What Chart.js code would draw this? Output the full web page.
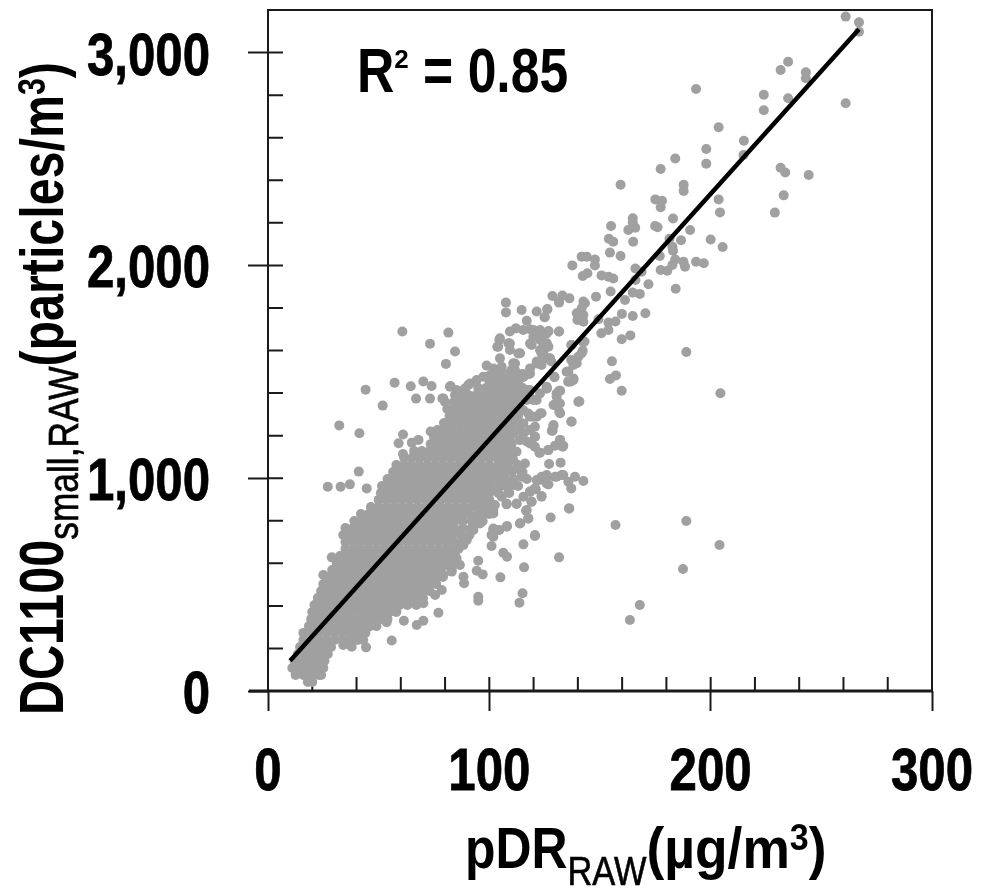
<!DOCTYPE html>
<html>
<head>
<meta charset="utf-8">
<title>DC1100 vs pDR</title>
<script src="https://cdn.jsdelivr.net/npm/chart.js@4"></script>
<style>
  html, body { margin: 0; padding: 0; background: #fff; }
  canvas { display: block; }
</style>
</head>
<body>
<canvas id="grafico" width="982" height="890"></canvas>
<script>
// DADOS
const xTicks = [0, 100, 200, 300];
const yTicks = [0, 1000, 2000, 3000];
const fitX = [10, 267];
const fitY = [142, 3109];

// miolo denso: cada nivel de y tem a sua lista de x
const bandY = [42, 75, 108, 141, 174, 207, 240, 273, 305, 338, 371, 404, 437, 470, 503, 536, 568, 601, 634, 667, 700, 733, 766, 799, 832, 865, 898, 930, 963, 996, 1029, 1062, 1095, 1128, 1160, 1193, 1226, 1259, 1292, 1325, 1358, 1391, 1424, 1457, 1490];
const bandX = [
  [18,20],
  [12.5,16,19.5,23,24],
  [11,14.5,18,21.5,25],
  [12,15.5,19,22.5,25.5],
  [13.5,17,20.5,24,27],
  [14.5,18,21.5,25,28.5],
  [16,19.5,23,26.5,30,33.5,37,40.5,43],
  [16,19.5,23,26.5,30,33.5,37,40.5,44],
  [18.5,22,25.5,29,32.5,36,39.5,43,46,49],
  [19.5,23,26.5,30,33.5,37,40.5,44,47.5,51,54],
  [20,23.5,27,30.5,34,37.5,41,44.5,48,51.5,55,58],
  [21,24.5,28,31.5,35,38.5,42,45.5,49,52.5,56,59.5,63,67],
  [22.5,26,29.5,33,36.5,40,43.5,47,50.5,54,57.5,61,64.5,68,70],
  [24,27.5,31,34.5,38,41.5,45,48.5,52,55.5,59,62.5,66,69.5,73],
  [25,28.5,32,35.5,39,42.5,46,49.5,53,56.5,60,63.5,67,70.5,74,76],
  [27,30.5,34,37.5,41,44.5,48,51.5,55,58.5,62,65.5,69,72.5,76,79],
  [29,32.5,36,39.5,43,46.5,50,53.5,57,60.5,64,67.5,71,74.5,78,83],
  [31,34.5,38,41.5,45,48.5,52,55.5,59,62.5,66,69.5,73,76.5,80,83],
  [32.5,36,39.5,43,46.5,50,53.5,57,60.5,64,67.5,71,74.5,78,81.5,84.5],
  [35,38.5,42,45.5,49,52.5,56,59.5,63,66.5,70,73.5,77,80.5,84,86],
  [35,38.5,42,45.5,49,52.5,56,59.5,63,66.5,70,73.5,77,80.5,84,88],
  [34,37.5,41,44.5,48,51.5,55,58.5,62,65.5,69,72.5,76,79.5,83,87,91],
  [35,38.5,42,45.5,49,52.5,56,59.5,63,66.5,70,73.5,77,80.5,84,88,92],
  [39,42.5,46,49.5,53,56.5,60,63.5,67,70.5,74,77.5,81,84.5,88,92,97],
  [42,45.5,49,52.5,56,59.5,63,66.5,70,73.5,77,80.5,84,87.5,91,95,100],
  [46.5,50,53.5,57,60.5,64,67.5,71,74.5,78,81.5,85,88.5,92,96,100],
  [50,53.5,57,60.5,64,67.5,71,74.5,78,81.5,85,88.5,92,95.5,100],
  [51,54.5,58,61.5,65,68.5,72,75.5,79,82.5,86,89.5,93,96.5,100,104,109],
  [51.5,55,58.5,62,65.5,69,72.5,76,79.5,83,86.5,90,93.5,97,100.5,105,109,113],
  [54,57.5,61,64.5,68,71.5,75,78.5,82,85.5,89,92.5,96,99.5,103,107,111,117],
  [56.5,60,63.5,67,70.5,74,77.5,81,84.5,88,91.5,95,98.5,102,105.5,110,115],
  [58,61.5,65,68.5,72,75.5,79,82.5,86,89.5,93,96.5,100,104,108,113],
  [61.5,65,68.5,72,75.5,79,82.5,86,89.5,93,96.5,100,103.5,107,109],
  [66,69.5,73,76.5,80,83.5,87,90.5,94,97.5,101,104.5,108,110],
  [73.5,77,80.5,84,87.5,91,94.5,98,101.5,105,108.5,110],
  [75,78.5,82,85.5,89,92.5,96,99.5,103,106.5,109],
  [76.5,80,83.5,87,90.5,94,97.5,101,104.5,108,110],
  [79.5,83,86.5,90,93.5,97,100.5,104,107.5,110],
  [82,85.5,89,92.5,96,99.5,103,106.5,110,113],
  [81,84.5,88,91.5,95,98.5,102,105.5,109],
  [80,84,87.5,91,94.5,98,101.5,105,108.5,112],
  [87,90.5,94,97.5,101,104.5,108,111.5,115,118],
  [95,98.5,102,105.5,109,112.5,115],
  [100,103.5,107,110,112],
  [105,108.5,112,115,118]
];

// pontos soltos [x, y]
const soltos = [
  [60.7,1689],[81.5,1684],[73.2,1632],[84.5,1595],[80.4,1537],[57.2,1449],[44.1,1416],[64.5,1432],[70.2,1454],[73.9,1433],
  [66.9,1374],[73.2,1374],[51.8,1341],[32.2,1248],[41.3,1211],[78.8,1375],[82.5,1433],[85.2,1414],[90.5,1438],[86,1383],
  [61,1205],[59,1164],[65,1167],[68,1180],[73.5,1219],[61,1114],[41,1031],[27,960],[32.8,960],[37,971],[44.6,952],
  [28.8,628],[25,545],[55.9,237],[44.3,205],[37.8,208],[34,216],[67.2,310],[70.2,330],[61.4,330],[53.6,323],[77,368],
  [95,443],[95,424],[113.6,415],[115,459],[105,534],[115.7,581],[131.5,628],[115.4,689],[120.6,728],[108,631],[106.3,650],
  [101,681],[101,733],[101.8,764],[104.5,757],[108,775],[114,788],[117.6,811],[116.6,847],[127.7,815],[136,858],
  [88.3,537],[88.6,506],[95,612],[94.3,565],[97,548],[107.8,877],[112.3,879],[119,890],[123.6,916],[115.4,913],[118.4,937],[121,948],
  [137,952],[142.5,987],[138.7,1007],[132.7,1015],[129.7,1007],[126,1007],[122.6,992],[126.7,971],[127,1067],[132.2,1073],
  [122.6,1120],[126.7,1132],[129.7,1153],[132,1180],[133.4,1153],[119,1164],[116.9,1172],[137,1266],[129,1250],[128.6,1223],
  [140.5,1360],[132,1305],[131,1352],[129,1344],[132,1411],[121.4,1289],[123.6,1305],[120.6,1195],[118.4,1226],
  [136.9,1454],[134.9,1500],[138,1532],[141.7,1587],[143,1642],[137,1626],[129.4,1474],[126,1422],
  [107.5,1825],[107.5,1779],[114.6,1790],[121.4,1783],[126.2,1793],[116.9,1740],[125,1756],[131.5,1825],[141,1767],[143.2,1822],
  [109.3,1689],[112,1704],[115.3,1696],[118.4,1700],[122,1689],[126.7,1689],[131.5,1689],[104.5,1649],[103.6,1618],[108.6,1634],
  [113.9,1587],[109.3,1602],[104.8,1563],[98.8,1529],[105.6,1524],[110.8,1540],[111.6,1508],[119.1,1626],[122.9,1649],[125.9,1634],[119.9,1665],
  [124.4,1587],[126.7,1563],[121.4,1548],[118.4,1516],[115.4,1477],[112.3,1461],[116.9,1414],[121.4,1367],[115.3,1320],[118.4,1289],[113.9,1242],
  [261,3169],[267,3142],[267,3098],[261,2762],[235,2957],[231.6,2918],[243,2907],[243,2879],[193.4,2829],[224,2802],[224,2729],[235,2785],
  [203.6,2649],[215,2586],[214.8,2519],[198,2547],[198,2478],[184,2502],[177.4,2453],[231.6,2459],[233.7,2436],[244.3,2425],[233,2329],[229,2248],
  [187.8,2379],[187.8,2350],[159.3,2379],[175,2310],[178,2304],[177.4,2273],[203.6,2310],[204.2,2249],[183,2220],[190.7,2166],
  [164.8,2221],[164.8,2201],[165.9,2177],[162.8,2166],[155,2185],[174.9,2185],[176,2179],[154,2125],[156,2111],[165,2111],[181.4,2125],[186.6,2118],[200,2122],[205.4,2086],
  [154.5,2060],[159.3,2044],[182.7,2088],[183,2069],[177,2044],[184,2028],[187.7,2017],[188.4,1994],[193.4,2017],[196.9,2010],[182.7,2002],[177.4,1978],[180.4,1975],[184.2,1890],
  [141.7,2041],[144,2041],[147.7,2028],[147.7,1999],[137.5,2000],[142.2,1950],[144.3,1963],[150.7,1953],[153.8,1947],[156,1938],[166,1985],[168.8,1970],[166,1931],
  [171.9,1911],[154.8,1877],[164.8,1872],[168,1866],[148.2,1853],[161.3,1837],[128.5,1856],[133,1858],[136.2,1845],[131.5,1830],[126.2,1795],[125,1756],
  [142.5,1830],[141.7,1798],[139.5,1775],[142.5,1767],[139.8,1743],[142.5,1735],[149.3,1747],[153.8,1731],[157,1736],[153.8,1696],[150.6,1681],
  [159.9,1772],[164.8,1762],[170.5,1775],[163.7,1671],[159.8,1653],[131.5,1689],[126.7,1692],[122.9,1696],[142.5,1638],[142.2,1599],[140.2,1571],[137.2,1626],
  [137,1555],[139.5,1540],[135.7,1501],[138,1461],[135.7,1454],[129.4,1477],[131.6,1411],[130.4,1383],[125.9,1430],
  [155.4,1549],[157.2,1483],[154.5,1466],[159.8,1411],[189,1593],[204.4,1399],[140.7,1360],
  [124.5,1634],[126.7,1618],[123.6,1587],[125.9,1563],[128,1548],[123.6,1532],
  [157,780],[189,799],[204,686],[187.5,573],[168,404],[163.5,334]
];

const borda = [
  [122.9,1602],[125.9,1633],[124.4,1571],[121.4,1539],[118.4,1492],[115.4,1477],[113.1,1445],[127.4,1563],[118.4,1633],[122.9,1665],[119.9,1696],[125.9,1680],
  [109.3,1633],[113.1,1586],[111.6,1539],[110,1508],[104.8,1657],[104,1618],[101.8,1516],[97.3,1477],[100.3,1484],[103.3,1484],[106.3,1461],[110,1445],
  [91.3,1445],[82.2,1430],[84.5,1391],[79.2,1375],[89,1422],[94.3,1461],
  [122.9,1398],[125.9,1422],[130.4,1398],[131.9,1351],[129.7,1344],[131.6,1312],[122.9,1304],[119.9,1289],[117.6,1304],[115.4,1257],[120.6,1242],[113.8,1226],[120.6,1195],[128.9,1245],[128.2,1223],
  [118.4,1163],[120.6,1148],[122.9,1120],[126.6,1132],[131.9,1179],[133.1,1148],[137.2,1265],[140.2,1359],[135.7,1453],[138,1469],
  [116.1,1069],[113.8,1038],[114.6,1007],[111.6,968],[108.6,936],[105.6,913],[107.8,881],[112.3,881],[101.8,834],[102.5,874],[97.3,897],[92.8,803],[95.8,787],
  [116.9,850],[117.6,811],[113.8,787],[107.8,772],[101.8,756],[104,756],[101.8,725],[120.6,733],
  [121.4,991],[123.6,1007],[125.9,1015],[125.9,975],[130.4,1007],[133.4,1015],[135.7,983],[120.6,952],[118.4,936],[123.6,913],[119.1,889],[136.1,858],
  [104.8,1085],[107.8,1132],[110.8,1085],[112.3,1124],[109.3,1179],[113.8,1179],[110.8,1210],[115.4,1210],[112.3,1273],[107.8,1257],[116.9,1367],[119.9,1367],[113.8,1383],[118.4,1414],[110.8,1336],
  [106.3,1022],[110,1038],[102.5,991],[106.3,968],[101,952],
  [79.2,545],[83,561],[86.7,592],[85.2,623],[80.7,592],[78.5,475],[75.5,451],[70.2,412],[67.2,490],[71.7,506],[62.7,459],[59.6,443],[56.6,420],[51.4,373],[49.1,342],[44.6,295],[40.1,263],
  [92.8,757],[89.8,710],[94.3,804],[101.8,851],[98.8,835],[94.3,866],[86.7,741],[88.3,686],[84.5,631],[80.7,663]
];

const COR_PONTO = "#a0a0a0";
const COR_EIXO = "#1a1a1a";
const FONTE = '"Liberation Sans", sans-serif';
const APERTO = 0.82; // a fonte do original e condensada

// monta os pontos
const pontos = [];
bandY.forEach((y, i) => { bandX[i].forEach(x => pontos.push({ x, y })); });
soltos.concat(borda).forEach(p => pontos.push({ x: p[0], y: p[1] }));

// escreve pedaços de texto em sequencia (indice e expoente), condensados
function escreve(ctx, partes, x, y) {
  ctx.textAlign = "left";
  ctx.textBaseline = "alphabetic";
  ctx.fillStyle = "#000";
  partes.forEach(p => {
    const sx = p.sx || APERTO;
    ctx.save();
    ctx.font = p.font;
    ctx.translate(x, y + (p.dy || 0));
    ctx.scale(sx, 1);
    ctx.fillText(p.t, 0, 0);
    if (p.reforco) { // traço um pouco mais grosso
      ctx.strokeStyle = "#000";
      ctx.lineWidth = p.reforco;
      ctx.strokeText(p.t, 0, 0);
    }
    x += ctx.measureText(p.t).width * sx;
    ctx.restore();
  });
}

function larguraRotulo(ctx, t) {
  ctx.font = "bold 60px " + FONTE;
  return ctx.measureText(t).width * APERTO;
}

// moldura, ticks para dentro e textos
const moldura = {
  id: "moldura",
  beforeDatasetsDraw(chart) {
    const { ctx, chartArea: a, scales: { x, y } } = chart;
    ctx.save();
    ctx.strokeStyle = COR_EIXO;
    ctx.lineWidth = 2;
    ctx.beginPath();
    x.ticks.forEach(t => {
      const px = x.getPixelForValue(t.value);
      ctx.moveTo(px, a.bottom);
      ctx.lineTo(px, a.bottom - 14);
    });
    y.ticks.forEach(t => {
      const py = y.getPixelForValue(t.value);
      ctx.moveTo(a.left, py);
      ctx.lineTo(a.left + 15, py);
    });
    ctx.stroke();
    ctx.restore();
  },
  afterDraw(chart) {
    const { ctx, chartArea: a, scales } = chart;
    ctx.save();
    ctx.strokeStyle = COR_EIXO;
    ctx.lineWidth = 2;
    ctx.beginPath();
    ctx.moveTo(a.left, a.bottom);
    ctx.lineTo(a.left, a.top);
    ctx.lineTo(a.right, a.top);
    ctx.lineTo(a.right, a.bottom);
    ctx.stroke();
    ctx.lineWidth = 3;
    ctx.beginPath();
    ctx.moveTo(a.left - 19, a.bottom);
    ctx.lineTo(a.right, a.bottom);
    ctx.stroke();

    // rotulos dos ticks
    xTicks.forEach(v => {
      const t = String(v);
      const px = scales.x.getPixelForValue(v);
      escreve(ctx, [{ t, font: "bold 60px " + FONTE, reforco: 0.8 }], px - larguraRotulo(ctx, t) / 2, 790);
    });
    yTicks.forEach(v => {
      const t = v.toLocaleString("en-US");
      const py = scales.y.getPixelForValue(v);
      escreve(ctx, [{ t, font: "bold 60px " + FONTE, reforco: 0.8 }], 210 - larguraRotulo(ctx, t), py + 22);
    });

    escreve(ctx, [
      { t: "R", font: "bold 63px " + FONTE },
      { t: "2", font: "bold 26px " + FONTE, dy: -24, sx: 1 },
      { t: " = 0.85", font: "bold 63px " + FONTE }
    ], 357, 92);

    escreve(ctx, [
      { t: "pDR", font: "bold 58px " + FONTE, sx: 0.86 },
      { t: "RAW", font: "40px " + FONTE, dy: 17, sx: 0.86, reforco: 0.6 },
      { t: "(µg/m", font: "bold 58px " + FONTE, sx: 0.92 },
      { t: "3", font: "bold 37px " + FONTE, dy: -18, sx: 0.92 },
      { t: ")", font: "bold 58px " + FONTE, sx: 0.92 }
    ], 465, 868);

    ctx.translate(63, 715);
    ctx.rotate(-Math.PI / 2);
    escreve(ctx, [
      { t: "DC1100", font: "bold 63px " + FONTE, sx: 0.77 },
      { t: "small,RAW", font: "42px " + FONTE, dy: 15, sx: 0.84, reforco: 0.7 },
      { t: "(particles/m", font: "bold 62px " + FONTE, sx: 0.78 },
      { t: "3", font: "bold 39px " + FONTE, dy: -18, sx: 0.78 },
      { t: ")", font: "bold 62px " + FONTE, sx: 0.78 }
    ], 0, 0);
    ctx.restore();
  }
};

new Chart(document.getElementById("grafico"), {
  type: "scatter",
  data: {
    datasets: [
      {
        label: "Ajuste",
        data: fitX.map((x, i) => ({ x, y: fitY[i] })),
        showLine: true,
        borderColor: "#000",
        borderWidth: 4.5,
        pointRadius: 0,
        order: 1
      },
      {
        label: "DC1100",
        data: pontos,
        backgroundColor: COR_PONTO,
        borderWidth: 0,
        pointRadius: 5,
        order: 2
      }
    ]
  },
  options: {
    responsive: false,
    animation: false,
    layout: { padding: { top: 10, right: 50, left: 0, bottom: 0 } },
    plugins: { legend: { display: false }, tooltip: { enabled: false } },
    scales: {
      x: {
        type: "linear",
        min: 0,
        max: 300,
        afterFit(s) { s.height = 199; s.paddingLeft = 0; s.paddingRight = 0; },
        border: { display: false },
        grid: {
          drawOnChartArea: false,
          tickLength: 20,
          tickWidth: 2,
          tickColor: c => xTicks.includes(c.tick.value) ? COR_EIXO : "rgba(0,0,0,0)"
        },
        ticks: { stepSize: 20, autoSkip: false, maxRotation: 0, display: false }
      },
      y: {
        type: "linear",
        min: 0,
        max: 3200,
        afterFit(s) { s.width = 268; s.paddingTop = 0; s.paddingBottom = 0; },
        border: { display: false },
        grid: {
          drawOnChartArea: false,
          tickLength: 20,
          tickWidth: 2,
          tickColor: c => yTicks.includes(c.tick.value) ? COR_EIXO : "rgba(0,0,0,0)"
        },
        ticks: { stepSize: 200, autoSkip: false, display: false }
      }
    }
  },
  plugins: [moldura]
});
</script>
</body>
</html>
